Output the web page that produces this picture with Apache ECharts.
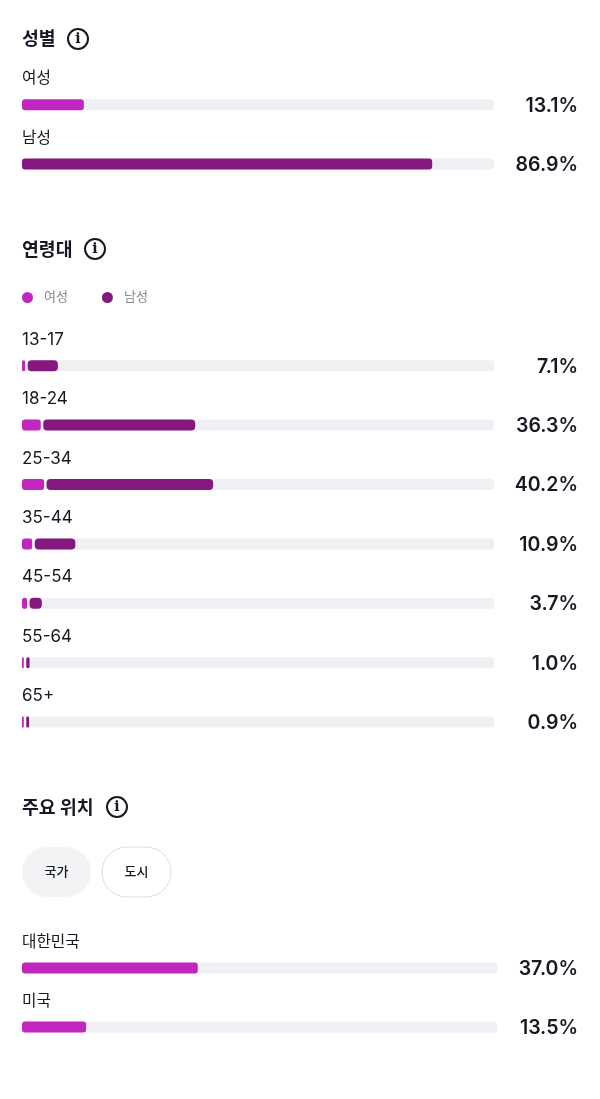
<!DOCTYPE html>
<html>
<head>
<meta charset="utf-8">
<style>html,body{margin:0;padding:0;background:#fff}#c{width:600px;height:1099px}</style>
<script src="https://cdn.jsdelivr.net/npm/echarts@6/dist/echarts.min.js"></script>
</head>
<body>
<div id="c"></div>
<script>
const sectionTitles = ['성별', '연령대', '주요 위치'];
const genderCategories = ['여성', '남성'];
const genderValues = [13.1, 86.9];
const ageCategories = ['13-17', '18-24', '25-34', '35-44', '45-54', '55-64', '65+'];
const ageFemale = [0.7, 4.0, 4.7, 2.2, 1.1, 0.4, 0.4];
const ageMale = [6.4, 32.2, 35.3, 8.6, 2.6, 0.7, 0.6];
const ageTotals = [7.1, 36.3, 40.2, 10.9, 3.7, 1.0, 0.9];
const ageSeparator = [0.5, 0.5, 0.5, 0.5, 0.5, 0.5, 0.5];
const locationCategories = ['대한민국', '미국'];
const locationValues = [37.0, 13.5];
const locationTabs = ['국가', '도시'];

const FONT = 'Inter, "Noto Sans CJK KR", sans-serif';
const PINK = '#c127bf', PURPLE = '#85187e', TRACK = '#eff0f4', INK = '#161823';
const pct = v => v.toFixed(1) + '%';

function grid(top, height, width) { return { left: 22, top, height, width, containLabel: false }; }
function xAxis(i) { return { gridIndex: i, type: 'value', min: 0, max: 100, show: false }; }
function yAxes(i, cats, vals, valueMargin) {
  return [
    { gridIndex: i, type: 'category', inverse: true, data: cats, position: 'left',
      axisLine: { show: false }, axisTick: { show: false }, splitLine: { show: false },
      axisLabel: { show: false } },
    { gridIndex: i, type: 'category', inverse: true, data: vals.map(pct), position: 'right',
      axisLine: { show: false }, axisTick: { show: false }, splitLine: { show: false },
      axisLabel: { margin: valueMargin, align: 'right', verticalAlign: 'middle',
        formatter: v => '{v|' + v + '}',
        rich: { v: { fontFamily: FONT, fontSize: 19.5, fontWeight: 600, color: INK, padding: [2, 0, 0, 0] } } } }
  ];
}
const barBase = { type: 'bar', barWidth: 11, silent: true, animation: false };
const track = { showBackground: true, backgroundStyle: { color: TRACK, borderRadius: 3 } };
const rowLabel = { show: true, position: 'insideLeft', distance: 0, offset: [0, -26], formatter: '{b}',
  fontFamily: FONT, fontSize: 15.7, color: INK };
const ageLabel = Object.assign({}, rowLabel, { fontSize: 17 });

const yAxis = [
  ...yAxes(0, genderCategories, genderValues, 84),
  ...yAxes(1, ageCategories, ageTotals, 84),
  ...yAxes(2, locationCategories, locationValues, 81)
];

const series = [
  Object.assign({}, barBase, track, { xAxisIndex: 0, yAxisIndex: 0, label: rowLabel,
    data: genderValues.map((v, i) => ({ value: v, itemStyle: { color: i === 0 ? PINK : PURPLE, borderRadius: 3 } })) }),
  Object.assign({}, barBase, track, { name: genderCategories[0], xAxisIndex: 1, yAxisIndex: 2, stack: 'age', label: ageLabel,
    data: ageFemale, itemStyle: { color: PINK, borderRadius: 3 } }),
  Object.assign({}, barBase, { name: 'sep', xAxisIndex: 1, yAxisIndex: 2, stack: 'age',
    data: ageSeparator, itemStyle: { color: '#fff' } }),
  Object.assign({}, barBase, { name: genderCategories[1], xAxisIndex: 1, yAxisIndex: 2, stack: 'age',
    data: ageMale, itemStyle: { color: PURPLE, borderRadius: 4 } }),
  Object.assign({}, barBase, track, { xAxisIndex: 2, yAxisIndex: 4, label: rowLabel,
    data: locationValues, itemStyle: { color: PINK, borderRadius: 3 } })
];

function infoIcon(cx, cy) {
  return { type: 'group', x: cx, y: cy, children: [
    { type: 'circle', shape: { cx: 0, cy: 0, r: 10 }, style: { fill: '#fff', stroke: INK, lineWidth: 2 } },
    { type: 'text', style: { x: 0, y: 0.5, text: 'i', align: 'center', verticalAlign: 'middle',
      font: 'bold 14px "DejaVu Serif", serif', fill: INK } }
  ] };
}
function tab(x, label, active) {
  return { type: 'group', x, y: 847, children: [
    { type: 'rect', shape: { x: 0, y: 0, width: 69, height: 50, r: 25 },
      style: active ? { fill: '#f2f3f5' } : { fill: '#fff', stroke: '#dcdcdc', lineWidth: 1 } },
    { type: 'text', style: { x: 34.5, y: 25, text: label, align: 'center', verticalAlign: 'middle',
      font: '500 13px ' + FONT, fill: INK } }
  ] };
}

const titleStyle = { fontFamily: FONT, fontSize: 18.3, fontWeight: 700, color: INK };
const chart = echarts.init(document.getElementById('c'), null, { renderer: 'canvas' });
chart.setOption({
  animation: false,
  backgroundColor: '#fff',
  title: [
    { text: sectionTitles[0], left: 22, top: 30, padding: 0, textStyle: titleStyle },
    { text: sectionTitles[1], left: 22, top: 241, padding: 0, textStyle: titleStyle },
    { text: sectionTitles[2], left: 22, top: 799, padding: 0, textStyle: titleStyle }
  ],
  legend: { left: 22, top: 291, padding: 0, icon: 'circle', itemWidth: 11, itemHeight: 11, itemGap: 34,
    selectedMode: false, data: genderCategories,
    textStyle: { fontFamily: FONT, fontSize: 13, color: '#86878b', padding: [0, 0, 0, 6] } },
  grid: [grid(75.05, 118.6, 472), grid(336, 415.8, 472), grid(938.5, 118, 475)],
  xAxis: [xAxis(0), xAxis(1), xAxis(2)],
  yAxis,
  series,
  graphic: [infoIcon(78, 39), infoIcon(95, 249), infoIcon(117, 807),
    tab(22, locationTabs[0], true), tab(102, locationTabs[1], false)]
});
</script>
</body>
</html>
